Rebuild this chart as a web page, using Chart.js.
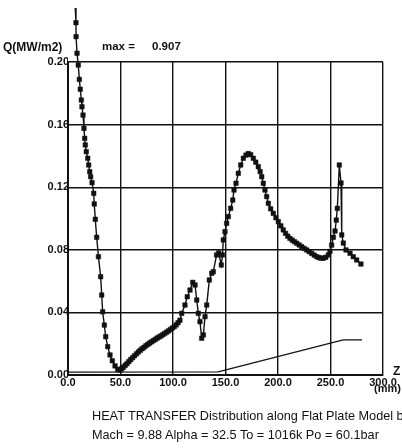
<!DOCTYPE html>
<html><head><meta charset="utf-8">
<script src="https://cdn.jsdelivr.net/npm/chart.js@4/dist/chart.umd.min.js"></script>
<style>
html,body{margin:0;padding:0;background:#fff;}
#wrap{position:relative;width:402px;height:448px;overflow:hidden;font-family:"Liberation Sans",Arial,sans-serif;color:#111;}
canvas{position:absolute;left:0;top:0;}
.t{position:absolute;white-space:nowrap;line-height:1;}
</style></head><body>
<div id="wrap">
<canvas id="c" width="402" height="448"></canvas>
<div class="t" style="left:3px;top:41px;font-size:12px;font-weight:bold">Q(MW/m2)</div>
<div class="t" style="left:102px;top:41px;font-size:11.5px;font-weight:bold">max =</div>
<div class="t" style="left:152px;top:41px;font-size:11.5px;font-weight:bold">0.907</div>
<div class="t" style="left:393px;top:365px;font-size:12px;font-weight:bold">Z</div>
<div class="t" style="left:374px;top:383px;font-size:11px;font-weight:bold">(mm)</div>
<div class="t" style="left:92px;top:410px;font-size:12.7px">HEAT TRANSFER Distribution along Flat Plate Model base</div>
<div class="t" style="left:92px;top:429px;font-size:12.7px">Mach = 9.88 Alpha = 32.5 To = 1016k Po = 60.1bar</div>
</div>
<script>
// Heat transfer Q (MW/m2) along the plate, Z (mm)
const zMeasured = [6.9,7.6,7.7,8.6,9.8,10.8,11.7,12.7,13.3,14.3,15.2,15.9,16.5,17.4,18.8,19.7,20.7,21.6,22.9,24.5,25.0,26.0,27.3,29.0,31.1,32.1,33.0,34.6,35.9,37.8,40.0,42.2,44.8,47.3,49.5,
51.1,52.8,54.5,56.2,58.0,59.8,61.6,63.4,65.2,67.0,68.8,70.6,72.4,74.2,76.0,77.8,79.6,81.4,83.2,85.0,86.8,88.6,90.4,92.2,94.0,95.8,97.6,99.4,101.2,103.0,104.8,106.6,108.3,111.4,113.6,116.2,118.8,121.0,122.6,124.1,125.7,127.3,128.9,130.5,132.1,134.6,136.9,138.4,141.5,143.5,146.0,147.1,147.9,149.5,151.1,152.7,154.9,156.9,158.1,160.0,162.2,164.5,167.0,169.5,171.7,174.0,176.5,178.8,181.2,183.0,184.5,186.0,187.6,189.2,190.8,193.0,195.5,198.0,200.3,202.7,205.0,207.2,209.3,211.4,213.5,215.6,217.8,220.2,222.6,225.0,227.3,229.7,232.1,234.5,236.9,239.0,241.0,243.1,245.5,247.9,249.5,251.1,252.7,254.3,255.5,256.5,258.4,260.0,260.7,262.2,264.8,268.6,271.7,274.9,279.0];
const qMeasured = [0.2345,0.2251,0.2162,0.2056,0.1981,0.1889,0.1826,0.1757,0.1714,0.1661,0.1576,0.1512,0.1470,0.1427,0.1385,0.1342,0.1299,0.1267,0.1229,0.1161,0.1093,0.0995,0.0880,0.0756,0.0628,0.0511,0.0404,0.0319,0.0245,0.0181,0.0128,0.0091,0.0058,0.0036,0.0032,
0.0040,0.0050,0.0062,0.0073,0.0086,0.0099,0.0111,0.0123,0.0135,0.0147,0.0158,0.0168,0.0177,0.0187,0.0196,0.0204,0.0212,0.0220,0.0228,0.0236,0.0243,0.0250,0.0258,0.0266,0.0274,0.0282,0.0291,0.0300,0.0309,0.0320,0.0334,0.0350,0.0394,0.0447,0.0500,0.0543,0.0592,0.0575,0.0479,0.0394,0.0341,0.0235,0.0256,0.0373,0.0447,0.0607,0.0650,0.0660,0.0767,0.0780,0.0703,0.0767,0.0863,0.0916,0.0969,0.1012,0.1065,0.1118,0.1182,0.1225,0.1289,0.1342,0.1385,0.1405,0.1415,0.1408,0.1385,0.1360,0.1331,0.1300,0.1267,0.1225,0.1182,0.1140,0.1097,0.1062,0.1033,0.1005,0.0980,0.0953,0.0927,0.0905,0.0887,0.0873,0.0862,0.0852,0.0842,0.0831,0.0820,0.0809,0.0799,0.0788,0.0777,0.0766,0.0756,0.0750,0.0747,0.0746,0.0752,0.0767,0.0790,0.0830,0.0880,0.0920,0.0990,0.1065,0.1342,0.1227,0.0895,0.0843,0.0799,0.0778,0.0756,0.0735,0.0709];
// lower reference line (no markers)
const zLower = [0, 143, 262, 280];
const qLower = [0.0018, 0.0020, 0.0225, 0.0224];
// axis ticks
const xTicks = [0, 50, 100, 150, 200, 250, 300];
const yTicks = [0.00, 0.04, 0.08, 0.12, 0.16, 0.20];

const mainPts = zMeasured.map((z,i)=>({x:z, y:qMeasured[i]}));
const lowerPts = zLower.map((z,i)=>({x:z, y:qLower[i]}));
const radii = zMeasured.map((z,i)=> i===0 ? 0 : 3.2);
const fontTick = {family:'"Liberation Sans", Arial, sans-serif', size:11, weight:'bold'};

// let markers that lie above the plot frame (values > 0.20) still be drawn
const overflowMarkers = {
  id:'overflowMarkers',
  beforeDatasetsDraw(chart){
    this._saved = chart.chartArea;
    const a = chart.chartArea;
    chart.chartArea = {left:a.left, right:a.right, top:0, bottom:a.bottom, width:a.width, height:a.bottom};
  },
  afterDatasetsDraw(chart){
    if (this._saved) chart.chartArea = this._saved;
  }
};

new Chart(document.getElementById('c'), {
  type:'scatter',
  data:{datasets:[
    {data:mainPts, showLine:true, borderColor:'#111', borderWidth:1.4, tension:0,
     pointStyle:'rect', pointRadius:radii, pointBackgroundColor:'#111', pointBorderColor:'#111', pointBorderWidth:0.5, clip:false},
    {data:lowerPts, showLine:true, borderColor:'#111', borderWidth:1.3, pointRadius:0, clip:false}
  ]},
  plugins:[overflowMarkers],
  options:{
    responsive:false, animation:false, devicePixelRatio:1,
    layout:{padding:{top:62, right:19, left:0, bottom:0}},
    plugins:{legend:{display:false}, tooltip:{enabled:false}},
    scales:{
      x:{type:'linear', min:xTicks[0], max:xTicks[xTicks.length-1],
         afterFit:s=>{s.height=73;},
         afterBuildTicks:s=>{s.ticks = xTicks.map(v=>({value:v}));},
         ticks:{callback:v=>Number(v).toFixed(1), padding:1, color:'#111', font:fontTick, maxRotation:0, autoSkip:false},
         grid:{color:'#111', lineWidth:1.4, drawTicks:false},
         border:{color:'#111', width:2}},
      y:{min:yTicks[0], max:yTicks[yTicks.length-1],
         afterFit:s=>{s.width=68;},
         afterBuildTicks:s=>{s.ticks = yTicks.map(v=>({value:v}));},
         ticks:{callback:v=>Number(v).toFixed(2), padding:-1, color:'#111', font:fontTick, autoSkip:false},
         grid:{color:'#111', lineWidth:1.4, drawTicks:false},
         border:{color:'#111', width:2}}
    }
  }
});
</script>
</body></html>
